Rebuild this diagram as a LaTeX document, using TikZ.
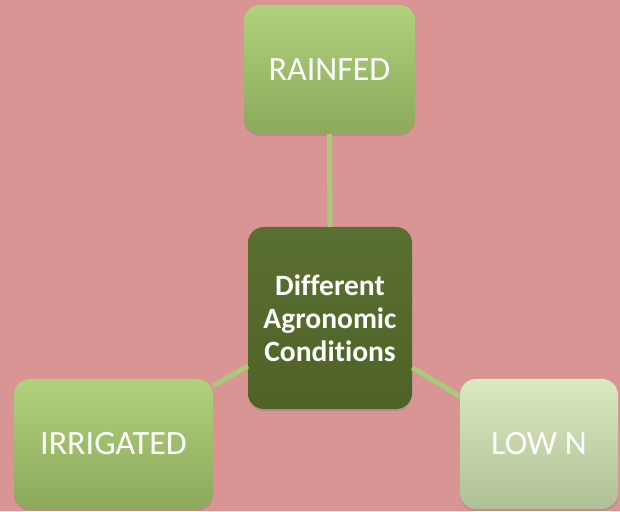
\documentclass[tikz,border=0pt]{standalone}
\usepackage{fontspec}
\setmainfont{Carlito}[Ligatures=NoCommon]
\usepackage{tikz}
\usetikzlibrary{calc,positioning,shadows}
\definecolor{pinkbg}{HTML}{D99594}
\definecolor{leaftop}{HTML}{B1D27C}
\definecolor{leafbot}{HTML}{8CA95C}
\definecolor{darktop}{HTML}{5A7030}
\definecolor{darkbot}{HTML}{4E6227}
\definecolor{palettop}{HTML}{D9E9C1}
\definecolor{palebot}{HTML}{AFC096}
\definecolor{linkgreen}{HTML}{A6CB7B}

\begin{document}
\begin{tikzpicture}[x=1pt,y=1pt,
    box/.style={rectangle,rounded corners=16pt,draw=none,align=center,
                text=white,inner sep=0pt,
                drop shadow={opacity=0.35,shadow xshift=0pt,shadow yshift=-2pt}},
    leaf/.style={box,top color=leaftop,bottom color=leafbot,
                 font=\fontsize{34}{40}\selectfont},
    hub/.style={box,top color=darktop,bottom color=darkbot,
                font=\fontsize{29.5}{33}\selectfont\bfseries},
    link/.style={line width=5pt,draw=linkgreen}]
            \fill[pinkbg] (0,0) rectangle (620,511);
            \useasboundingbox (0,0) rectangle (620,511);
            \node[hub,minimum width=164pt,minimum height=182pt] (cond) at (330,193)
              {Different\\Agronomic\\Conditions};
            \node[leaf,minimum width=171pt,minimum height=129pt] (rainfed) at (329.5,441.5) {RAINFED};
            \node[leaf,minimum width=199pt,minimum height=130pt] (irrig) at (113.5,67) {IRRIGATED};
            \node[leaf,top color=palettop,bottom color=palebot,
                  minimum width=158pt,minimum height=130pt] (lown) at (539,67) {LOW N};
            \draw[link] (rainfed) -- (cond);
            \draw[link] (cond) -- (irrig);
            \draw[link] (cond) -- (lown);
          \end{tikzpicture}
\end{document}
